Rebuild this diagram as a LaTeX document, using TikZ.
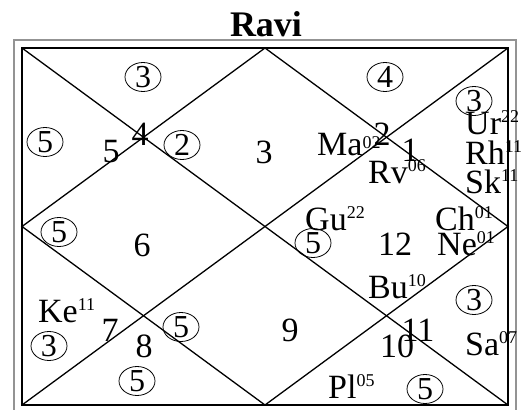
\documentclass[tikz,border=0pt]{standalone}
\usepackage{fontspec}
\setmainfont{Liberation Serif}
\newcommand\supx[2][12pt]{\raisebox{#1}{\fontsize{18}{18}\selectfont #2}}
\begin{document}
\begin{tikzpicture}[x=1pt,y=-1pt,
  chartline/.style={line width=1.3pt,black},
  frameline/.style={line width=1.4pt,gray!85},
  num/.style={inner sep=0pt,font=\fontsize{34}{34}\selectfont},
  cnum/.style={inner sep=0pt,font=\fontsize{32}{32}\selectfont},
  ring/.style={line width=0.8pt},
  pl/.style={inner sep=0pt,anchor=base west,font=\fontsize{34}{34}\selectfont},
  title/.style={inner sep=0pt,anchor=base,font=\fontsize{36}{36}\selectfont\bfseries}]
\useasboundingbox (0,0) rectangle (528,410);
% outer gray frame
\draw[frameline] (14,420) -- (14,40) -- (516,40) -- (516,420);
% chart
\coordinate (tl) at (22,48);
\coordinate (tr) at (508,48);
\coordinate (br) at (508,405);
\coordinate (bl) at (22,405);
\coordinate (mt) at (265,48);
\coordinate (mr) at (508,226.5);
\coordinate (mb) at (265,405);
\coordinate (ml) at (22,226.5);
\draw[chartline] (tl) rectangle (br);
\draw[chartline] (tl) -- (br);
\draw[chartline] (tr) -- (bl);
\draw[chartline] (mt) -- (mr) -- (mb) -- (ml) -- cycle;
% title
\node[title] (ttl) at (266,36) {Ravi};
% house numbers
\node[num] (h1) at (410,150) {1};
\node[num] (h2) at (382,134) {2};
\node[num] (h3) at (264,152) {3};
\node[num] (h4) at (140,134) {4};
\node[num] (h5) at (111,152) {5};
\node[num] (h6) at (142,245) {6};
\node[num] (h7) at (110,330) {7};
\node[num] (h8) at (144,346) {8};
\node[num] (h9) at (290,330) {9};
\node[num] (h10) at (397,346) {10};
\node[num] (h11) at (418,330) {11};
\node[num] (h12) at (395,244) {12};
% circled numbers
\foreach \n/\x/\y/\t in {c1/143/77/3, c2/45/142/5, c3/182/145/2, c4/385/77/4,
  c5/474/101/3, c6/313/243/5, c7/474/300/3, c8/425/389/5, c9/181/327/5,
  c10/137/381/5, c11/49/346/3, c12/59/232/5}{
  \node[cnum] (\n) at (\x,\y) {\t};
  \draw[ring] (\n.center) ellipse [x radius=18, y radius=14.5];
}
% planets
\node[pl] (ma) at (317,155) {Ma\supx[7pt]{02}};
\node[pl] (rv) at (368,183) {Rv\supx{06}};
\node[pl] (ur) at (465,134) {Ur\supx{22}};
\node[pl] (rh) at (465,164) {Rh\supx{11}};
\node[pl] (sk) at (465,193) {Sk\supx{11}};
\node[pl] (gu) at (305,230) {Gu\supx{22}};
\node[pl] (ch) at (435,230) {Ch\supx{01}};
\node[pl] (ne) at (437,255) {Ne\supx{01}};
\node[pl] (bu) at (368,298) {Bu\supx{10}};
\node[pl] (sa) at (465,355) {Sa\supx{07}};
\node[pl] (plu) at (328,398) {Pl\supx{05}};
\node[pl] (ke) at (38,322) {Ke\supx{11}};
\end{tikzpicture}
\end{document}
